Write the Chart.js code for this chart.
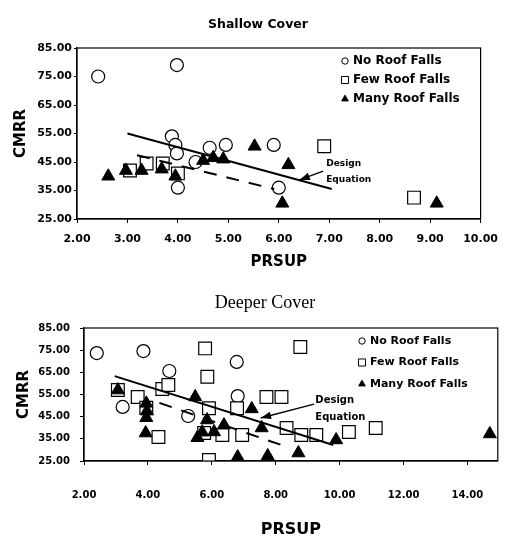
<!DOCTYPE html>
<html>
<head>
<meta charset="utf-8">
<script src="https://cdn.jsdelivr.net/npm/chart.js@4.4.1/dist/chart.umd.min.js"></script>
<style>
    body { margin: 0; background: #fff; }
    #wrap { position: relative; width: 508px; height: 542px; }
    canvas { position: absolute; left: 0; }
</style>
</head>
<body>
<div id="wrap">
    <canvas id="shallowChart" width="508" height="270" style="top:0"></canvas>
    <canvas id="deeperChart" width="508" height="272" style="top:270px"></canvas>
</div>
<script>
// Shallow cover
const shallowNoX = [2.42, 3.98, 3.88, 3.95, 3.98, 4.0, 4.35, 4.63, 4.95, 5.9, 6.0];
const shallowNoY = [75, 79, 54, 51, 48, 36, 45, 50, 51, 51, 36];
const shallowFewX = [3.05, 3.38, 3.7, 4.0, 6.9, 8.68];
const shallowFewY = [42, 44.5, 44.5, 41, 50.5, 32.5];
const shallowManyX = [2.62, 2.97, 3.28, 3.68, 3.95, 4.5, 4.7, 4.9, 5.52, 6.19, 6.07, 9.13];
const shallowManyY = [40, 42, 42, 42.5, 40, 45.5, 46.5, 46, 50.5, 44, 30.5, 30.5];
const shallowDesignX = [3.0, 7.05];
const shallowDesignY = [55, 35.5];
const shallowDashX = [3.19, 5.91];
const shallowDashY = [47.4, 35.5];

// Deeper cover
const deeperNoX = [2.4, 3.86, 4.67, 3.21, 5.26, 6.78, 6.81];
const deeperNoY = [73.7, 74.6, 65.6, 49.4, 45.3, 69.7, 54.3];
const deeperFewX = [3.06, 3.68, 4.33, 4.45, 4.64, 3.95, 5.79, 5.86, 5.91, 5.91, 5.76, 6.33, 6.79, 6.95,
    7.71, 8.18, 8.34, 8.8, 9.27, 10.29, 11.13, 8.77];
const deeperFewY = [57, 53.9, 35.8, 57.5, 59.3, 49, 75.8, 63, 48.8, 25.5, 37.6, 36.7, 48.8, 36.7,
    53.9, 53.9, 39.9, 36.7, 36.7, 38.1, 39.9, 76.4];
const deeperManyX = [3.06, 3.95, 3.97, 3.95, 3.93, 5.48, 5.85, 5.55, 5.7, 6.07, 6.38, 7.25, 7.56,
    6.81, 7.75, 8.71, 9.89, 14.7];
const deeperManyY = [57, 51, 47.5, 44.5, 37.6, 53.9, 43.5, 35.5, 38, 38.1, 41.2, 48.5, 39.9,
    26.8, 27.3, 28.6, 34.5, 37.2];
const deeperDesignX = [2.96, 9.8];
const deeperDesignY = [63.3, 32.2];
const deeperDashX = [4.36, 8.18];
const deeperDashY = [51.2, 32.2];

const seriesNames = ['No Roof Falls', 'Few Roof Falls', 'Many Roof Falls'];
const yTicks = [25, 35, 45, 55, 65, 75, 85];

const toPoints = (xs, ys) => xs.map((x, i) => ({ x: x, y: ys[i] }));

// box round the plot area
const frameBox = {
    id: 'frameBox',
    afterDraw(chart) {
        const { ctx, chartArea: a } = chart;
        ctx.save();
        ctx.strokeStyle = '#000';
        ctx.lineWidth = 1.2;
        ctx.strokeRect(a.left, a.top, a.right - a.left, a.bottom - a.top);
        ctx.restore();
    }
};

// "Design Equation" label with arrow
const designNote = {
    id: 'designNote',
    afterDatasetsDraw(chart, args, opts) {
        const { ctx, scales: { x, y } } = chart;
        const x0 = x.getPixelForValue(opts.from[0]), y0 = y.getPixelForValue(opts.from[1]);
        const x1 = x.getPixelForValue(opts.to[0]), y1 = y.getPixelForValue(opts.to[1]);
        const ang = Math.atan2(y1 - y0, x1 - x0);
        ctx.save();
        ctx.strokeStyle = '#000';
        ctx.fillStyle = '#000';
        ctx.lineWidth = 1.3;
        ctx.beginPath();
        ctx.moveTo(x0, y0);
        ctx.lineTo(x1, y1);
        ctx.stroke();
        ctx.beginPath();
        ctx.moveTo(x1, y1);
        ctx.lineTo(x1 - 11 * Math.cos(ang - 0.35), y1 - 11 * Math.sin(ang - 0.35));
        ctx.lineTo(x1 - 11 * Math.cos(ang + 0.35), y1 - 11 * Math.sin(ang + 0.35));
        ctx.closePath();
        ctx.fill();
        ctx.font = opts.font;
        ctx.textBaseline = 'middle';
        const tx = x.getPixelForValue(opts.textAt[0]);
        const ty = y.getPixelForValue(opts.textAt[1]);
        opts.lines.forEach((t, i) => ctx.fillText(t, tx, ty + i * opts.gap));
        ctx.restore();
    }
};

// legend list in upper right of plot
const keyBox = {
    id: 'keyBox',
    afterDraw(chart, args, opts) {
        const { ctx, chartArea: a } = chart;
        const items = chart.data.datasets.filter(d => d.keyRadius).reverse();
        ctx.save();
        ctx.font = opts.font;
        ctx.textBaseline = 'middle';
        items.forEach((d, i) => {
            const px = a.left + opts.left;
            const py = a.top + opts.top + i * opts.row;
            ctx.fillStyle = d.backgroundColor;
            ctx.strokeStyle = '#000';
            ctx.lineWidth = 1;
            Chart.helpers.drawPoint(ctx, { pointStyle: d.pointStyle, radius: d.keyRadius, rotation: 0, borderWidth: 1 }, px, py);
            ctx.fillStyle = '#000';
            ctx.fillText(d.label, px + opts.textGap, py);
        });
        ctx.restore();
    }
};

function makeChart(id, cfg) {
    const tickFont = { family: 'DejaVu Sans', weight: 'bold', size: cfg.tickSize };
    const axisFont = { family: 'DejaVu Sans', weight: 'bold', size: cfg.axisTitleSize, lineHeight: 1 };
    return new Chart(document.getElementById(id), {
        type: 'scatter',
        data: {
            datasets: [
                { label: 'Design', data: toPoints(cfg.designX, cfg.designY), showLine: true, borderColor: '#000',
                  borderWidth: 2, pointRadius: 0 },
                { label: 'Dashed', data: toPoints(cfg.dashX, cfg.dashY), showLine: true, borderColor: '#000',
                  borderWidth: 2, borderDash: [13, 10], pointRadius: 0 },
                { label: seriesNames[2], data: toPoints(cfg.manyX, cfg.manyY), pointStyle: 'triangle',
                  pointRadius: 7.5, backgroundColor: '#000', borderColor: '#000', borderWidth: 1, keyRadius: 3.8 },
                { label: seriesNames[1], data: toPoints(cfg.fewX, cfg.fewY), pointStyle: 'rect',
                  pointRadius: 9, backgroundColor: '#fff', borderColor: '#000', borderWidth: 1.2, keyRadius: 5 },
                { label: seriesNames[0], data: toPoints(cfg.noX, cfg.noY), pointStyle: 'circle',
                  pointRadius: 6.5, backgroundColor: '#fff', borderColor: '#000', borderWidth: 1.2, keyRadius: 3.2 }
            ]
        },
        options: {
            responsive: false,
            animation: false,
            devicePixelRatio: 1,
            // left padding only shifts the centred title; the y axis width makes up the rest
            layout: { padding: { left: cfg.leftPad, right: cfg.rightPad, top: 0, bottom: 0 } },
            plugins: {
                legend: { display: false },
                tooltip: { enabled: false },
                title: {
                    display: true,
                    text: cfg.title,
                    color: '#000',
                    font: cfg.titleFont,
                    padding: cfg.titlePad
                },
                keyBox: cfg.key,
                designNote: cfg.note
            },
            scales: {
                x: {
                    type: 'linear',
                    min: 2,
                    max: cfg.xMax,
                    afterFit: s => { s.height = cfg.xAxisHeight; },
                    ticks: {
                        stepSize: cfg.xStep,
                        includeBounds: false,
                        autoSkip: false,
                        maxRotation: 0,
                        color: '#000',
                        font: tickFont,
                        padding: cfg.xTickPad,
                        callback: v => v.toFixed(2)
                    },
                    grid: { drawOnChartArea: false, tickLength: 4, color: '#000' },
                    border: { color: '#000', width: 1.2 },
                    title: {
                        display: true,
                        text: 'PRSUP',
                        color: '#000',
                        font: axisFont,
                        padding: { top: 0, bottom: cfg.xTitlePad }
                    }
                },
                y: {
                    type: 'linear',
                    min: 25,
                    max: 85,
                    afterFit: s => { s.width = cfg.yAxisWidth - cfg.leftPad; },
                    afterBuildTicks: s => { s.ticks = yTicks.map(v => ({ value: v })); },
                    ticks: {
                        color: '#000',
                        font: tickFont,
                        padding: cfg.yTickPad,
                        callback: v => v.toFixed(2)
                    },
                    grid: { drawOnChartArea: false, tickLength: cfg.yTickLen, color: '#000' },
                    border: { color: '#000', width: 1.2 },
                    title: {
                        display: true,
                        text: 'CMRR',
                        color: '#000',
                        font: { family: 'DejaVu Sans', weight: 'bold', size: 15, lineHeight: 1 },
                        padding: { top: cfg.yTitlePad - cfg.leftPad, bottom: 0 }
                    }
                }
            }
        },
        plugins: [frameBox, designNote, keyBox]
    });
}

makeChart('shallowChart', {
    title: 'Shallow Cover',
    titleFont: { family: 'DejaVu Sans', weight: 'bold', size: 12.5, lineHeight: 1.2 },
    titlePad: { top: 17.5, bottom: 15.5 },
    leftPad: 34, rightPad: 26,
    xMax: 10, xStep: 1, xAxisHeight: 51, xTickPad: 10, xTitlePad: 0, axisTitleSize: 15,
    yAxisWidth: 77, yTickPad: 2, yTickLen: 3, yTitlePad: 13.5,
    tickSize: 11,
    noX: shallowNoX, noY: shallowNoY, fewX: shallowFewX, fewY: shallowFewY,
    manyX: shallowManyX, manyY: shallowManyY,
    designX: shallowDesignX, designY: shallowDesignY, dashX: shallowDashX, dashY: shallowDashY,
    key: { left: 268, top: 13, row: 19, textGap: 8, font: 'bold 12px "DejaVu Sans"' },
    note: { from: [6.88, 41.8], to: [6.41, 38.7], textAt: [6.94, 44.3], gap: 16,
            lines: ['Design', 'Equation'], font: 'bold 9px "DejaVu Sans"' }
});

makeChart('deeperChart', {
    title: 'Deeper Cover',
    titleFont: { family: 'Liberation Serif', weight: 'normal', size: 18, lineHeight: 1.2 },
    titlePad: { top: 22.2, bottom: 14.2 },
    leftPad: 29, rightPad: 7,
    xMax: 14.95, xStep: 2, xAxisHeight: 81, xTickPad: 24, xTitlePad: 4, axisTitleSize: 16,
    yAxisWidth: 84, yTickPad: 10, yTickLen: 4, yTitlePad: 17,
    tickSize: 10,
    noX: deeperNoX, noY: deeperNoY, fewX: deeperFewX, fewY: deeperFewY,
    manyX: deeperManyX, manyY: deeperManyY,
    designX: deeperDesignX, designY: deeperDesignY, dashX: deeperDashX, dashY: deeperDashY,
    key: { left: 278, top: 13, row: 21.5, textGap: 8, font: 'bold 11px "DejaVu Sans"' },
    note: { from: [9.2, 50.7], to: [7.53, 44.4], textAt: [9.24, 52.5], gap: 17,
            lines: ['Design', 'Equation'], font: 'bold 10px "DejaVu Sans"' }
});
</script>
</body>
</html>
